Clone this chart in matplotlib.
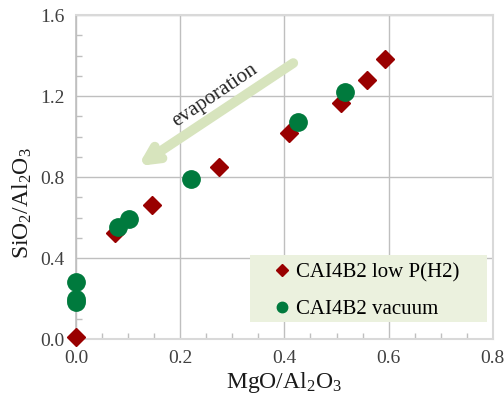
import matplotlib
matplotlib.use("Agg")
import matplotlib.pyplot as plt
from matplotlib.ticker import MultipleLocator
from matplotlib.patches import Rectangle

plt.rcParams['font.family'] = ['Liberation Serif', 'DejaVu Serif']
plt.rcParams['mathtext.fontset'] = 'custom'
plt.rcParams['mathtext.rm'] = 'Liberation Serif'
plt.rcParams['mathtext.it'] = 'Liberation Serif:italic'

# data
lowp_x = [0.0, 0.075, 0.146, 0.275, 0.408, 0.509, 0.558, 0.594]
lowp_y = [0.011, 0.522, 0.662, 0.851, 1.016, 1.164, 1.279, 1.383]
vac_x = [0.0, 0.0, 0.0, 0.081, 0.101, 0.221, 0.426, 0.516]
vac_y = [0.283, 0.185, 0.200, 0.555, 0.593, 0.790, 1.073, 1.221]
xticks = [0.0, 0.2, 0.4, 0.6, 0.8]
yticks = [0.0, 0.4, 0.8, 1.2, 1.6]

fig = plt.figure(figsize=(5.04, 3.97), dpi=100)
ax = fig.add_axes([0.1508, 0.146, 0.827, 0.816])
ax.set_xlim(0, 0.8)
ax.set_ylim(0, 1.6)
ax.set_xticks(xticks)
ax.set_yticks(yticks)
ax.set_xticklabels([f"{v:.1f}" for v in xticks])
ax.set_yticklabels([f"{v:.1f}" for v in yticks])
ax.xaxis.set_minor_locator(MultipleLocator(0.05))
ax.yaxis.set_minor_locator(MultipleLocator(0.1))
ax.tick_params(which='major', length=0, labelsize=14, labelcolor='#404040', pad=8)
ax.tick_params(which='minor', direction='in', length=4, color='#bfbfbf', width=1)
ax.grid(True, which='major', color='#bfbfbf', linewidth=1)
ax.set_axisbelow(True)
for s in ['top', 'right', 'bottom']:
    ax.spines[s].set_color('#d9d9d9')
    ax.spines[s].set_linewidth(1.5)
ax.spines['left'].set_color('#bfbfbf')
ax.spines['left'].set_linewidth(1.2)

ax.plot(lowp_x, lowp_y, linestyle='none', marker='D', markersize=9.5,
        color='#990000', label='CAI4B2 low P(H2)', zorder=4, clip_on=False)
ax.plot(vac_x, vac_y, linestyle='none', marker='o', markersize=12.5,
        color='#007a3d', label='CAI4B2 vacuum', zorder=4, clip_on=False)

ax.set_xlabel(r'MgO/Al$_2$O$_3$', fontsize=17, color='#1a1a1a', labelpad=2)
ax.set_ylabel(r'SiO$_2$/Al$_2$O$_3$', fontsize=17, color='#1a1a1a')
ax.yaxis.set_label_coords(-0.10, 0.42)

ax.annotate('', xy=(0.119, 0.854), xytext=(0.417, 1.363),
            arrowprops=dict(arrowstyle='->,head_length=1.0,head_width=0.5',
                            color='#d7e4bd', linewidth=7, shrinkA=0, shrinkB=0),
            zorder=2)
ax.text(0.267, 1.205, 'evaporation', rotation=34, fontsize=15, color='#262626',
        ha='center', va='center', rotation_mode='anchor')

ax.add_patch(Rectangle((0.417, 0.0525), 0.569, 0.2065, transform=ax.transAxes,
                       facecolor='#ebf1de', edgecolor='none', zorder=5))
leg = ax.legend(loc='center', bbox_to_anchor=(0.7015, 0.148), fontsize=15,
                frameon=False, markerscale=0.6, handletextpad=0.43,
                handlelength=0.5, borderpad=0.0, labelspacing=0.8)
leg.set_zorder(6)

fig.savefig('out.png', dpi=100)
